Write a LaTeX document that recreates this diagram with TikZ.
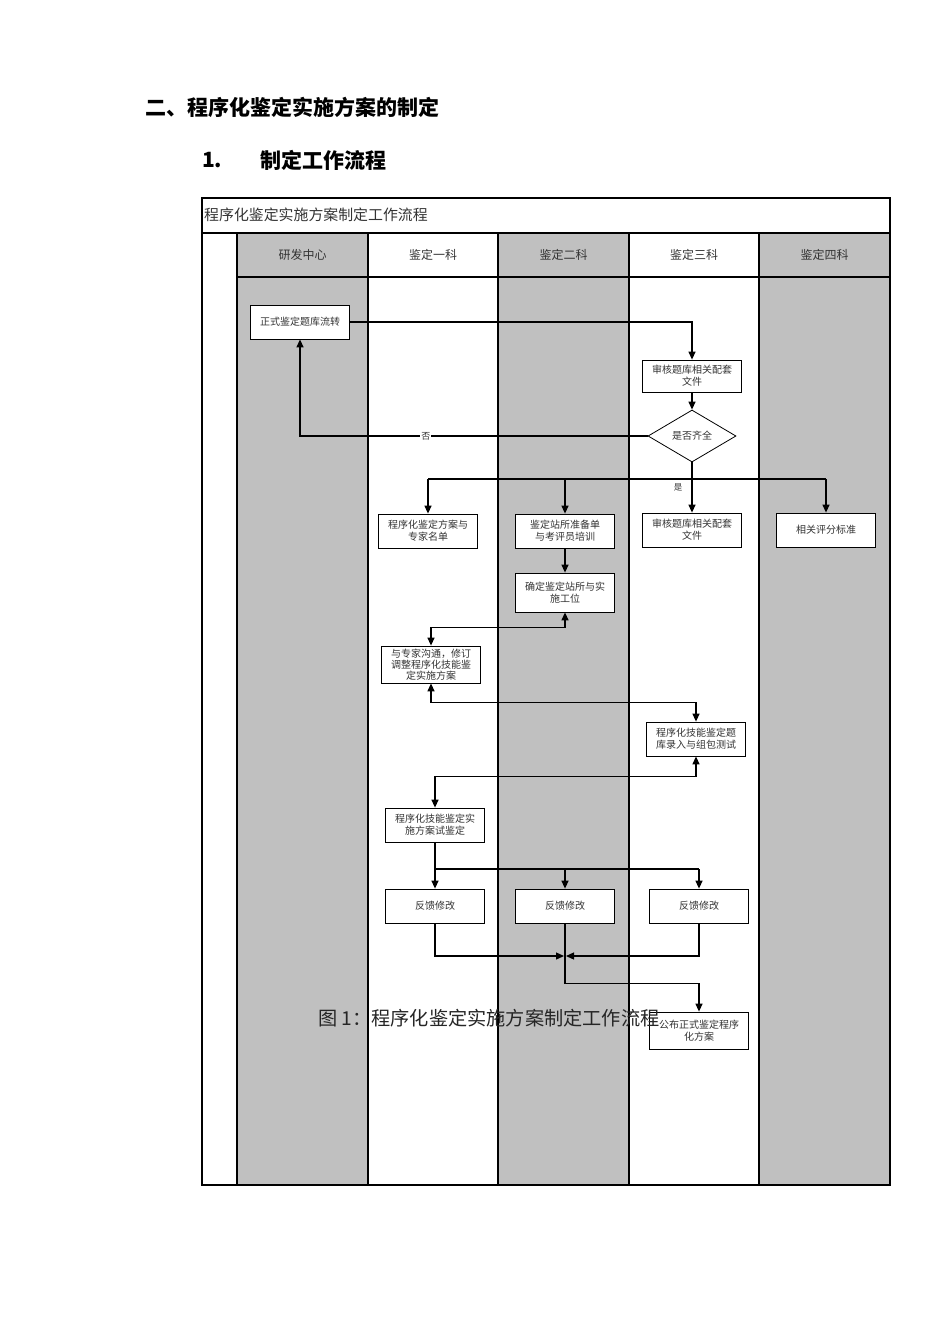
\documentclass[tikz,border=0pt]{standalone}
\usepackage{fontspec}
\newfontfamily\cjk{Noto Sans CJK SC}
\usetikzlibrary{arrows.meta,shapes.geometric}
\definecolor{lanegray}{HTML}{C0C0C0}
\definecolor{txt}{HTML}{333333}
\tikzset{
  box/.style={draw, fill=white, line width=0.8pt, minimum width=99pt, minimum height=34pt,
    inner sep=1pt, align=center, text=txt, font=\cjk\fontsize{10}{11.8}\selectfont},
  arr/.style={line width=1.3pt, -{Triangle[length=8pt,width=7pt]}},
  dbl/.style={line width=1.3pt, {Triangle[length=8pt,width=7pt]}-{Triangle[length=8pt,width=7pt]}},
  ln/.style={line width=1.3pt},
  lane/.style={line width=1.6pt},
  hdr/.style={text=txt, font=\cjk\fontsize{12}{14}\selectfont},
}
\begin{document}
\begin{tikzpicture}[x=1pt,y=-1pt]
\useasboundingbox (0,0) rectangle (950,1344);
% headings
\node[anchor=west, inner sep=0pt, font=\cjk\bfseries\fontsize{21}{24}\selectfont] (h1) at (145,107) {二、程序化鉴定实施方案的制定};
\node[anchor=west, inner sep=0pt, font=\cjk\bfseries\fontsize{21}{24}\selectfont] (h2n) at (202,160) {1.};
\node[anchor=west, inner sep=0pt, font=\cjk\bfseries\fontsize{21}{24}\selectfont] (h2) at (260,160) {制定工作流程};
% lanes
\fill[lanegray] (237,233) rectangle (368,1185);
\fill[lanegray] (498,233) rectangle (629,1185);
\fill[lanegray] (759,233) rectangle (890,1185);
\draw[lane] (202,198) rectangle (890,1185);
\draw[lane] (202,233) -- (890,233);
\draw[lane] (237,277) -- (890,277);
\foreach \x in {237,368,498,629,759} \draw[lane] (\x,233) -- (\x,1185);
\node[anchor=west, inner sep=0pt, text=txt, font=\cjk\fontsize{14.9}{16}\selectfont] (title) at (204,215) {程序化鉴定实施方案制定工作流程};
\node[hdr] (l1) at (302.5,255) {研发中心};
\node[hdr] (l2) at (433,255) {鉴定一科};
\node[hdr] (l3) at (563.5,255) {鉴定二科};
\node[hdr] (l4) at (694,255) {鉴定三科};
\node[hdr] (l5) at (824.5,255) {鉴定四科};
% nodes
\node[box, minimum height=34pt] (zs) at (300,322) {正式鉴定题库流转};
\node[box, minimum height=32pt] (sh1) at (692,376) {审核题库相关配套\\文件};
\node[draw, fill=white, diamond, line width=0.8pt, minimum width=88pt, minimum height=52pt, inner sep=0pt, text=txt, font=\cjk\fontsize{10}{11}\selectfont] (dm) at (692,436) {是否齐全};
\node[box] (b1) at (428,531) {程序化鉴定方案与\\专家名单};
\node[box] (b2) at (565,531) {鉴定站所准备单\\与考评员培训};
\node[box] (b3) at (692,530) {审核题库相关配套\\文件};
\node[box] (b4) at (826,530) {相关评分标准};
\node[box, minimum height=39pt] (qd) at (565,592.5) {确定鉴定站所与实\\施工位};
\node[box, minimum height=37pt, font=\cjk\fontsize{10}{11}\selectfont] (gt) at (431,664.5) {与专家沟通，修订\\调整程序化技能鉴\\定实施方案};
\node[box] (lr) at (696,739) {程序化技能鉴定题\\库录入与组包测试};
\node[box] (sj) at (435,825) {程序化技能鉴定实\\施方案试鉴定};
\node[box] (f1) at (435,906) {反馈修改};
\node[box] (f2) at (565,906) {反馈修改};
\node[box] (f3) at (699,906) {反馈修改};
\node[box, minimum height=37pt] (gb) at (699,1030.5) {公布正式鉴定程序\\化方案};
% connectors
\draw[arr] (zs.east) -| (sh1.north);
\draw[arr] (sh1.south) -- (dm.north);
\draw[arr] (dm.west) -| node[pos=0.319, fill=white, inner sep=1pt, text=txt, font=\cjk\fontsize{9}{10}\selectfont] (no) {否} (zs.south);
\coordinate (sp) at (692,479);
\draw[arr] (dm.south) -- (b3.north);
\node[text=txt, font=\cjk\fontsize{8.5}{10}\selectfont, inner sep=0pt] (yes) at (678,487) {是};
\draw[ln] (b1.north |- sp) -- (b4.north |- sp);
\draw[arr] (b1.north |- sp) -- (b1.north);
\draw[arr] (b2.north |- sp) -- (b2.north);
\draw[arr] (b4.north |- sp) -- (b4.north);
\draw[arr] (b2.south) -- (qd.north);
\draw[dbl] (qd.south) -- ++(0,15) -| (gt.north);
\draw[dbl] (gt.south) -- ++(0,19) -| (lr.north);
\draw[dbl] (lr.south) -- ++(0,20) -| (sj.north);
\coordinate (s2) at (435,869);
\draw[arr] (sj.south) -- (f1.north);
\draw[ln] (s2) -- (f3.north |- s2);
\draw[arr] (f2.north |- s2) -- (f2.north);
\draw[arr] (f3.north |- s2) -- (f3.north);
\coordinate (m) at (565,956);
\draw[arr] (f1.south) |- ([xshift=-1pt]m);
\draw[arr] (f3.south) |- ([xshift=1pt]m);
\draw[arr] (f2.south) -- ++(0,60) -| (gb.north);
% caption
\node[anchor=west, inner sep=0pt, text=black!85, font=\cjk\fontsize{19.2}{22}\selectfont] (cap) at (318,1018) {图 1：程序化鉴定实施方案制定工作流程};
\end{tikzpicture}
\end{document}
